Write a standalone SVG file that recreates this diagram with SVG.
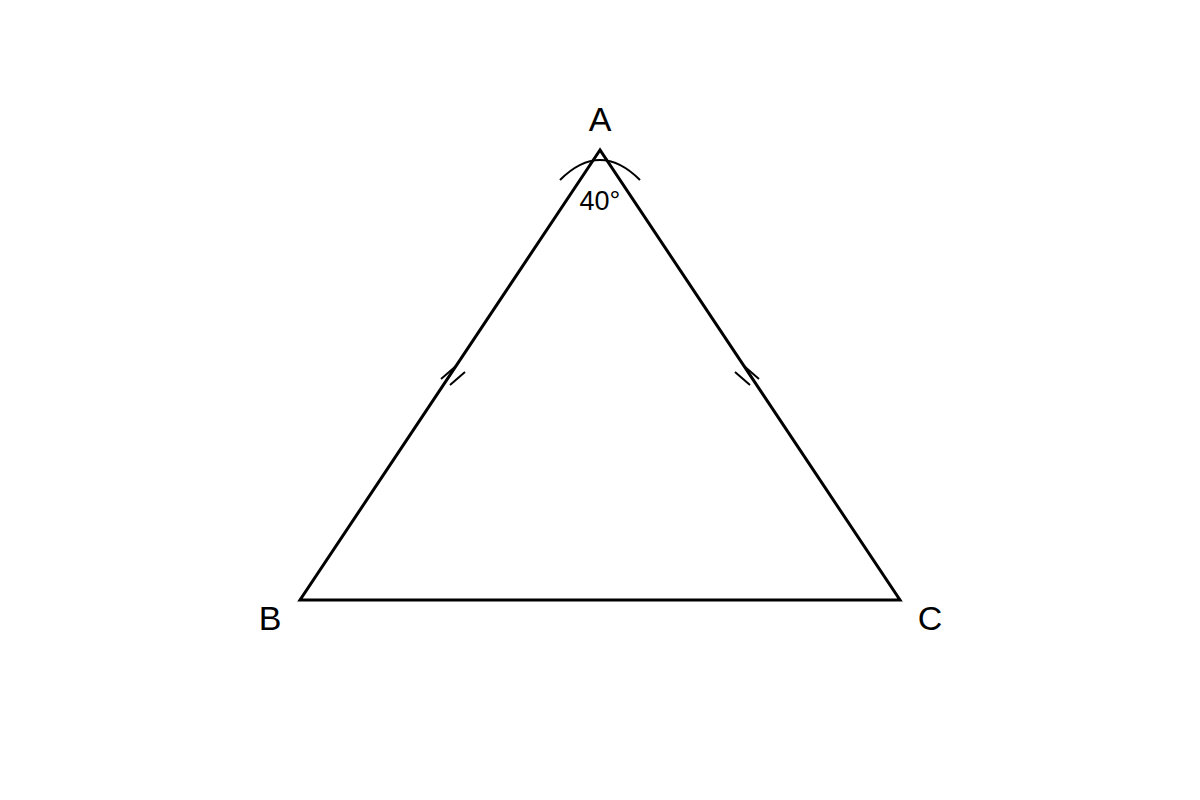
<svg xmlns="http://www.w3.org/2000/svg" width="1200" height="800" viewBox="0 0 1200 800">
<style>
.edge{fill:none;stroke:#000;stroke-width:3;stroke-linejoin:miter}
.mark{fill:none;stroke:#000;stroke-width:2}
.lbl{font-family:"Liberation Sans",Arial,sans-serif;fill:#000;text-anchor:middle;font-size:34px}
.ang{font-family:"Liberation Sans",Arial,sans-serif;fill:#000;text-anchor:middle;font-size:27px}
</style>
<rect width="1200" height="800" fill="#fff"/>
<g id="triangle">
<polygon class="edge" points="600,150 300,600 900,600"/>
</g>
<g id="connectors">
<path id="angle-arc" class="mark" d="M560,180 Q600,140 640,180"/>
<line class="mark" x1="441" y1="379" x2="456" y2="366"/>
<line class="mark" x1="450" y1="385" x2="465" y2="372"/>
<line class="mark" x1="759" y1="379" x2="744" y2="366"/>
<line class="mark" x1="750" y1="385" x2="735" y2="372"/>
</g>
<g id="node-A"><text class="lbl" x="600" y="131">A</text></g>
<g id="node-B"><text class="lbl" x="270" y="630">B</text></g>
<g id="node-C"><text class="lbl" x="930" y="630">C</text></g>
<g id="angle-label"><text class="ang" x="600" y="210">40°</text></g>
</svg>
